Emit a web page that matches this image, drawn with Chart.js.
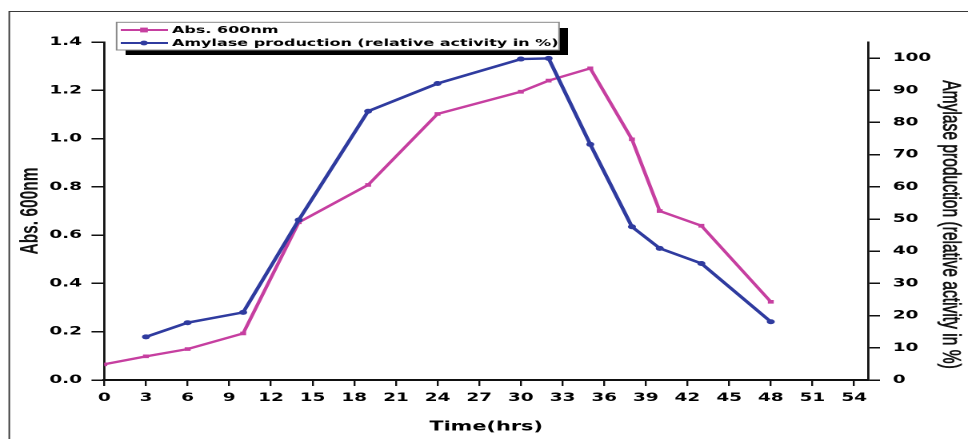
<!DOCTYPE html>
<html><head><meta charset="utf-8">
<script src="https://cdn.jsdelivr.net/npm/chart.js@4.4.1/dist/chart.umd.min.js"></script>
<style>
html,body{margin:0;padding:0;background:#fff;overflow:hidden;width:968px;height:439px;}
#c{position:absolute;left:0;top:0;transform:scaleX(1.6);transform-origin:0 0;}
</style></head><body>
<canvas id="c" width="605" height="439"></canvas>
<script>
// ---- data ----
const timeHrs = [0, 3, 6, 10, 14, 19, 24, 30, 32, 35, 38, 40, 43, 48];
const absorbance = [0.065, 0.098, 0.128, 0.193, 0.653, 0.808, 1.102, 1.194, 1.24, 1.291, 0.997, 0.70, 0.639, 0.324];
const amylase = [null, 13.4, 17.8, 21.0, 49.7, 83.5, 92.1, 99.7, 99.9, 73.2, 47.6, 40.9, 36.2, 18.1];
const xTicks = [0, 3, 6, 9, 12, 15, 18, 21, 24, 27, 30, 33, 36, 39, 42, 45, 48, 51, 54];
const absTicks = [0, 0.2, 0.4, 0.6, 0.8, 1.0, 1.2, 1.4];
const amylaseTicks = [0, 10, 20, 30, 40, 50, 60, 70, 80, 90, 100];
const seriesLabels = ['Abs. 600nm', 'Amylase production (relative activity in %)'];
const xTitle = 'Time(hrs)';
const leftTitle = 'Abs. 600nm';
const rightTitle = 'Amylase production (relative activity in %)';

const PINK = '#C63FA0';
const BLUE = '#2F3B9F';
const TICK_FONT = {family: 'DejaVu Sans', weight: 'bold', size: 11.5};

const framePlugin = {
  id: 'frame',
  beforeDraw(chart) {
    const ctx = chart.ctx;
    ctx.save();
    ctx.strokeStyle = '#3a3a3a';
    ctx.lineWidth = 1;
    ctx.beginPath();
    ctx.moveTo(5.8, chart.height);
    ctx.lineTo(5.8, 11.5);
    ctx.lineTo(chart.width, 11.5);
    ctx.stroke();
    ctx.restore();
  }
};

const extrasPlugin = {
  id: 'extras',
  afterDraw(chart) {
    const ctx = chart.ctx;
    ctx.save();
    // right axis title (rotated, reads top to bottom)
    const yAmy = chart.scales.yAmy;
    ctx.save();
    ctx.translate(yAmy.right - 11.2, 224.5);
    ctx.rotate(Math.PI / 2);
    ctx.font = '15.6px "Liberation Sans"';
    ctx.textAlign = 'center';
    ctx.textBaseline = 'middle';
    ctx.fillStyle = '#111';
    ctx.strokeStyle = '#111';
    ctx.lineWidth = 0.45;
    ctx.fillText(rightTitle, 0, 0);
    ctx.strokeText(rightTitle, 0, 0);
    ctx.restore();

    // legend box with shadow
    ctx.fillStyle = '#000';
    ctx.fillRect(78.5, 28, 276.5, 27);
    ctx.fillStyle = '#fff';
    ctx.fillRect(72.9, 22.3, 276.5, 27.7);
    ctx.strokeStyle = '#8a8a8a';
    ctx.lineWidth = 1;
    ctx.strokeRect(72.9, 22.3, 276.5, 27.7);
    chart.data.datasets.forEach((ds, i) => {
      const y = 30 + i * 13;
      ctx.strokeStyle = ds.borderColor;
      ctx.lineWidth = 2;
      ctx.beginPath();
      ctx.moveTo(75.5, y);
      ctx.lineTo(105, y);
      ctx.stroke();
      ctx.fillStyle = ds.borderColor;
      if (ds.pointStyle === 'rect') {
        ctx.fillRect(90 - 2.4, y - 2.4, 4.8, 4.8);
      } else {
        ctx.beginPath();
        ctx.arc(90, y, 2.4, 0, Math.PI * 2);
        ctx.fill();
      }
      ctx.fillStyle = '#000';
      ctx.font = 'bold 10px "DejaVu Sans"';
      ctx.textBaseline = 'middle';
      ctx.textAlign = 'left';
      ctx.fillText(ds.label, 107.5, y + 0.5);
    });
    ctx.restore();
  }
};

new Chart(document.getElementById('c'), {
  type: 'line',
  data: {
    datasets: [
      {
        label: seriesLabels[0],
        data: timeHrs.map((t, i) => ({x: t, y: absorbance[i]})),
        yAxisID: 'yAbs',
        borderColor: PINK, backgroundColor: PINK,
        borderWidth: 2.3, pointStyle: 'rect', pointRadius: 2.6,
        pointBorderWidth: 0, tension: 0, order: 1
      },
      {
        label: seriesLabels[1],
        data: timeHrs.map((t, i) => ({x: t, y: amylase[i]})),
        yAxisID: 'yAmy',
        borderColor: BLUE, backgroundColor: BLUE,
        borderWidth: 2.5, pointStyle: 'circle', pointRadius: 2.5,
        pointBorderWidth: 0, tension: 0, order: 0
      }
    ]
  },
  options: {
    responsive: false,
    devicePixelRatio: 2,
    animation: false,
    layout: {padding: {top: 42, left: 0, right: 0, bottom: 0}},
    plugins: {legend: {display: false}, tooltip: {enabled: false}},
    scales: {
      x: {
        type: 'linear', position: 'bottom', min: 0, max: 55,
        afterBuildTicks: s => { s.ticks = xTicks.map(v => ({value: v})); },
        afterFit: s => { s.height = 59; },
        border: {display: true, color: '#111', width: 2},
        grid: {drawOnChartArea: false, drawTicks: true, tickLength: 6, color: '#111', lineWidth: 1.2},
        ticks: {color: '#000', font: TICK_FONT, padding: 5, maxRotation: 0, autoSkip: false},
        title: {display: true, text: xTitle, color: '#000',
                font: {family: 'DejaVu Sans', weight: 'bold', size: 13}, padding: {top: 0, bottom: 4}}
      },
      yAbs: {
        type: 'linear', position: 'left', min: 0, max: 1.4,
        afterBuildTicks: s => { s.ticks = absTicks.map(v => ({value: v})); },
        afterFit: s => { s.width = 65.2; },
        border: {display: true, color: '#111', width: 1.4},
        grid: {drawOnChartArea: false, drawTicks: true, tickLength: 8, color: '#111', lineWidth: 1.5},
        ticks: {color: '#000', font: TICK_FONT, padding: 6, callback: v => Number(v).toFixed(1)},
        title: {display: true, text: leftTitle, color: '#111',
                font: {family: 'Liberation Sans', size: 15.5, weight: 'bold'}, padding: {top: 10, bottom: 0}}
      },
      yAmy: {
        type: 'linear', position: 'right', min: 0, max: 105,
        afterBuildTicks: s => { s.ticks = amylaseTicks.map(v => ({value: v})); },
        afterFit: s => { s.width = 62.5; },
        border: {display: true, color: '#111', width: 1.4},
        grid: {drawOnChartArea: false, drawTicks: true, tickLength: 7.5, color: '#111', lineWidth: 1.5},
        ticks: {color: '#000', font: TICK_FONT, padding: 8},
        title: {display: false, text: rightTitle}
      }
    }
  },
  plugins: [framePlugin, extrasPlugin]
});
</script>
</body></html>
